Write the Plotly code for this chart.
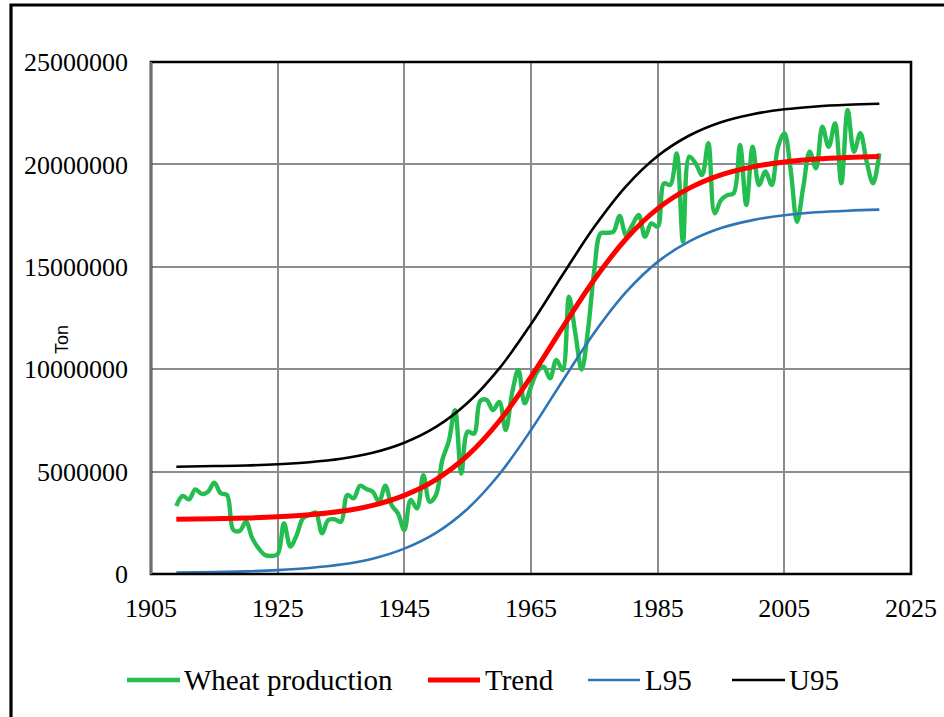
import plotly.graph_objects as go

# ---------------- data (million tons) ----------------
years = list(range(1909, 2021))
wheat_mt = [
    3.32, 3.81, 3.65, 4.13, 3.91, 4.02, 4.46, 3.94, 3.86, 2.15,   # 1909-1918
    2.10, 2.55, 1.74, 1.25, 0.93, 0.88, 0.97, 2.47, 1.34, 1.90,   # 1919-1928
    2.72, 2.88, 3.00, 1.99, 2.64, 2.67, 2.55, 3.86, 3.70, 4.31,   # 1929-1938
    4.15, 4.02, 3.53, 4.31, 3.36, 2.96, 2.15, 3.61, 3.20, 4.83,   # 1939-1948
    3.53, 3.86, 5.57, 6.46, 8.00, 4.91, 6.95, 6.85, 8.45, 8.50,   # 1949-1958
    8.00, 8.40, 7.03, 8.82, 9.96, 8.33, 9.15, 9.88, 10.12, 9.55,  # 1959-1968
    10.45, 9.96, 13.54, 11.75, 9.98, 11.91, 14.84, 16.63, 16.66, 16.71,  # 1969-1978
    17.48, 16.55, 17.04, 17.53, 16.47, 17.12, 16.96, 19.08, 19.00, 20.54,  # 1979-1988
    16.23, 20.38, 20.05, 19.48, 21.03, 17.61, 18.26, 18.50, 18.59, 20.95,  # 1989-1998
    18.02, 20.86, 18.99, 19.65, 18.99, 20.86, 21.52, 19.73, 17.20, 18.91,  # 1999-2008
    20.62, 19.81, 21.84, 20.86, 22.00, 19.08, 22.66, 20.62, 21.52, 20.13,  # 2009-2018
    19.08, 20.54,                                                           # 2019-2020
]

fit_years = [1909, 1915, 1920, 1925, 1930, 1935, 1940, 1945, 1950, 1955, 1960, 1965,
             1970, 1975, 1980, 1985, 1990, 1995, 2000, 2005, 2010, 2015, 2020]
trend_mt = [2.67, 2.70, 2.73, 2.79, 2.89, 3.06, 3.35, 3.84, 4.61, 5.79, 7.47, 9.63,
            12.04, 14.38, 16.36, 17.84, 18.84, 19.49, 19.88, 20.12, 20.26, 20.34, 20.39]
l95_mt = [0.07, 0.10, 0.13, 0.19, 0.29, 0.46, 0.75, 1.24, 2.01, 3.19, 4.87, 7.03,
          9.44, 11.78, 13.76, 15.24, 16.24, 16.89, 17.28, 17.52, 17.66, 17.74, 17.79]
u95_mt = [5.24, 5.27, 5.30, 5.36, 5.46, 5.63, 5.92, 6.41, 7.18, 8.36, 10.04, 12.20,
          14.61, 16.95, 18.93, 20.41, 21.41, 22.06, 22.45, 22.69, 22.83, 22.91, 22.96]

series_names = ["Wheat production", "Trend", "L95", "U95"]
series_colors = ["#24BD4F", "#FF0000", "#2E75B6", "#000000"]
series_widths = [4.4, 5, 2.6, 2.6]

x_ticks = [1905, 1925, 1945, 1965, 1985, 2005, 2025]
y_ticks = [0, 5000000, 10000000, 15000000, 20000000, 25000000]

M = 1_000_000

# ---------------- figure ----------------
W, H = 944, 717
PL, PR, PT, PB = 151, 911, 62, 574  # plot-area pixel box


def px(xpix):
    return (xpix - PL) / (PR - PL)


def py(ypix):
    return (PB - ypix) / (PB - PT)


fig = go.Figure()
fig.add_trace(go.Scatter(x=years, y=[v * M for v in wheat_mt], mode="lines",
                         line=dict(color=series_colors[0], width=series_widths[0], shape="spline", smoothing=1.0),
                         name=series_names[0]))
fig.add_trace(go.Scatter(x=fit_years, y=[v * M for v in trend_mt], mode="lines",
                         line=dict(color=series_colors[1], width=series_widths[1], shape="spline"),
                         name=series_names[1]))
fig.add_trace(go.Scatter(x=fit_years, y=[v * M for v in l95_mt], mode="lines",
                         line=dict(color=series_colors[2], width=series_widths[2], shape="spline"),
                         name=series_names[2]))
fig.add_trace(go.Scatter(x=fit_years, y=[v * M for v in u95_mt], mode="lines",
                         line=dict(color=series_colors[3], width=series_widths[3], shape="spline"),
                         name=series_names[3]))

serif = "Liberation Serif, Times New Roman, serif"

fig.update_layout(
    width=W, height=H,
    margin=dict(l=PL, r=W - PR, t=PT, b=H - PB, pad=0, autoexpand=False),
    paper_bgcolor="white", plot_bgcolor="white",
    showlegend=False,
    font=dict(family=serif, size=26, color="black"),
    xaxis=dict(range=[1905, 2025], tickvals=x_ticks, ticktext=[str(t) for t in x_ticks],
               showgrid=True, gridcolor="#8c8c8c", gridwidth=1.6, zeroline=False,
               showline=False, ticks="", ticklabelstandoff=16, automargin=False,
               tickfont=dict(family=serif, size=26, color="black")),
    yaxis=dict(range=[0, 25000000], tickvals=y_ticks, ticktext=[str(t) for t in y_ticks],
               showgrid=True, gridcolor="#8c8c8c", gridwidth=1.6, zeroline=False,
               showline=False, ticks="", ticklabelstandoff=22, automargin=False,
               tickfont=dict(family=serif, size=26, color="black")),
)

shapes = []
# outer chart frame (cropped on right/bottom)
shapes.append(dict(type="rect", xref="paper", yref="paper",
                   x0=px(11), x1=px(W + 20), y0=py(H + 20), y1=py(5),
                   line=dict(color="black", width=3.2), fillcolor="rgba(0,0,0,0)", layer="above"))
# plot-area border
shapes.append(dict(type="rect", xref="paper", yref="paper", x0=0, x1=1, y0=0, y1=1,
                   line=dict(color="black", width=2.6), fillcolor="rgba(0,0,0,0)", layer="above"))
shapes.append(dict(type="line", xref="paper", yref="paper", x0=0, x1=0, y0=0, y1=1,
                   line=dict(color="#6e6e6e", width=2.4), layer="above"))

# manual legend
legend_items = [(127, 180, 182), (428, 480, 483), (588, 640, 643), (732, 785, 787)]
annotations = []
for (xa, xb, xt), name, col, wdt in zip(legend_items, series_names, series_colors, series_widths):
    shapes.append(dict(type="line", xref="paper", yref="paper", x0=px(xa), x1=px(xb),
                       y0=py(680), y1=py(680), line=dict(color=col, width=wdt)))
    annotations.append(dict(xref="paper", yref="paper", x=px(xt), y=py(680), text=name,
                            showarrow=False, xanchor="left", yanchor="middle",
                            font=dict(family=serif, size=29, color="black")))

# axis title "Ton"
annotations.append(dict(xref="paper", yref="paper", x=px(62), y=py(340), text="Ton",
                        showarrow=False, textangle=-90, xanchor="center", yanchor="middle",
                        font=dict(family="Liberation Sans, Arial, sans-serif", size=18, color="black")))

fig.update_layout(shapes=shapes, annotations=annotations)

fig.write_html("out.html")
